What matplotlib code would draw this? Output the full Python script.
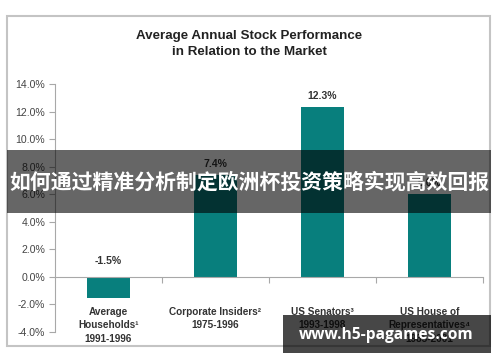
import matplotlib
matplotlib.use("Agg")
import matplotlib.pyplot as plt
from matplotlib.patches import Rectangle

categories = ["Average\nHouseholds\u00b9\n1991-1996",
              "Corporate Insiders\u00b2\n1975-1996",
              "US Senators\u00b3\n1993-1998",
              "US House of\nRepresentatives\u2074\n1985-2001"]
values = [-1.5, 7.4, 12.3, 6.0]
value_labels = ["-1.5%", "7.4%", "12.3%", "6.0%"]
yticks = [-4, -2, 0, 2, 4, 6, 8, 10, 12, 14]
ytick_labels = ["%.1f%%" % t for t in yticks]
title = "Average Annual Stock Performance\nin Relation to the Market"
banner = "如何通过精准分析制定欧洲杯投资策略实现高效回报"
site = "www.h5-pagames.com"

FAM = ["Liberation Sans", "DejaVu Sans"]
W, H = 500, 362
fig = plt.figure(figsize=(5, 3.62), dpi=100)
fig.patch.set_facecolor("white")

def fx(px):
    return px / W

def fy(py):
    return 1 - py / H

# outer frame
fig.add_artist(Rectangle((fx(7), fy(346)), fx(490) - fx(7), fy(16) - fy(346),
                         transform=fig.transFigure, fill=False,
                         edgecolor="#c4c4c4", lw=1.5, zorder=0))

ax = fig.add_axes([fx(55), fy(332), fx(483) - fx(55), fy(84) - fy(332)])
ax.set_facecolor("none")
x = list(range(len(categories)))
ax.bar(x, values, width=0.4, color="#087f7d", zorder=2)
ax.set_xlim(-0.5, 3.5)
ax.set_ylim(-4, 14)
ax.set_yticks(yticks)
ax.set_yticklabels(ytick_labels, family=FAM, fontsize=7.6, color="#444444")
for s in ["top", "right"]:
    ax.spines[s].set_visible(False)
ax.spines["left"].set_color("#a8a8a8")
ax.spines["bottom"].set_position(("data", 0))
ax.spines["bottom"].set_color("#a8a8a8")
ax.spines["bottom"].set_zorder(3)
ax.tick_params(axis="y", colors="#a8a8a8", labelcolor="#444444", length=4, width=0.8, pad=3)
ax.set_xticks([0.5, 1.5, 2.5, 3.5])
ax.set_xticklabels([])
ax.tick_params(axis="x", colors="#a8a8a8", length=4, width=0.8, direction="out")

for xi, v, lab in zip(x, values, value_labels):
    yy = v + 0.45 if v >= 0 else 0.8
    ax.text(xi, yy, lab, ha="center", va="bottom", family=FAM, fontsize=7.5,
            fontweight="bold", color="#333333", zorder=4)

for xi, c in zip(x, categories):
    ax.text(xi, -2.15, c, ha="center", va="top", family=FAM, fontsize=7.2,
            fontweight="bold", color="#333333", linespacing=1.45)

fig.text(fx(249), fy(44), title, ha="center", va="center", family=FAM,
         fontsize=9.6, fontweight="bold", color="#222222", linespacing=1.35)

# banner overlay
fig.add_artist(Rectangle((fx(7), fy(213)), fx(491) - fx(7), fy(150) - fy(213),
                         transform=fig.transFigure, facecolor="black", alpha=0.6,
                         edgecolor="none", zorder=10))
fig.text(fx(249), fy(182), banner, ha="center", va="center",
         family=["Noto Sans CJK SC", "DejaVu Sans"], fontsize=15, fontweight="bold",
         color="white", zorder=11)

# watermark box
fig.add_artist(Rectangle((fx(283), fy(353)), fx(491) - fx(283), fy(315) - fy(353),
                         transform=fig.transFigure, facecolor="black", alpha=0.72,
                         edgecolor="none", zorder=10))
fig.text(fx(386), fy(335), site, ha="center", va="center",
         family=["Open Sans", "DejaVu Sans"], fontsize=11.2, fontweight="bold",
         color="white", zorder=11)

fig.savefig("out.png", dpi=100)
